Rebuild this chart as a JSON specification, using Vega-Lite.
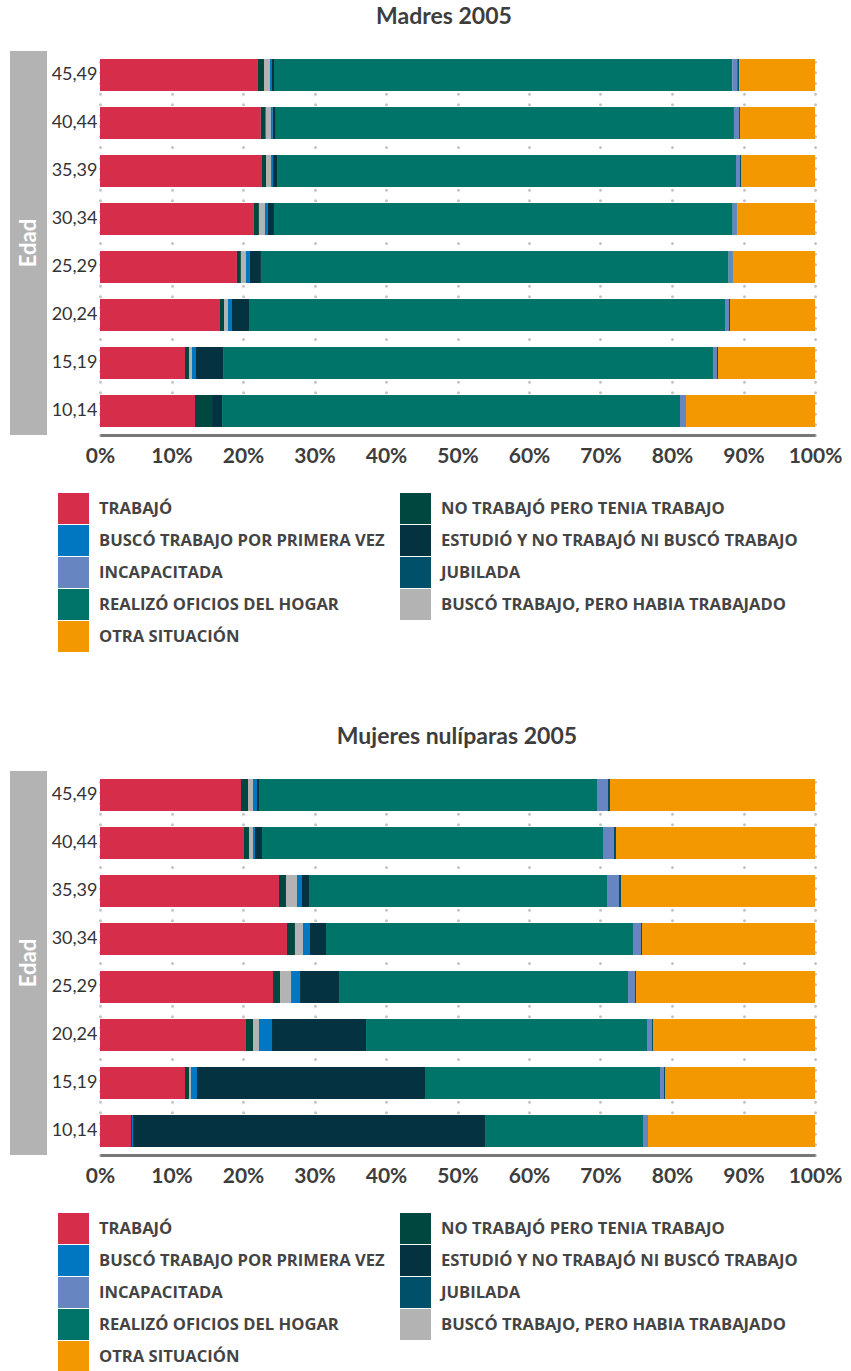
{
  "$schema": "https://vega.github.io/schema/vega-lite/v6.json",
  "padding": {"left": 10, "top": 6, "right": 0, "bottom": 0},
  "background": "white",
  "config": {
    "font": "Lato",
    "view": {"stroke": null},
    "title": {"font": "Lato", "fontSize": 23, "fontWeight": "bold", "color": "#3d3d3d", "anchor": "middle"}
  },
  "datasets": {
    "cats": [
      {"k": "trab", "cat": "TRABAJÓ", "orden": 1},
      {"k": "nott", "cat": "NO TRABAJÓ PERO TENIA TRABAJO", "orden": 2},
      {"k": "bhab", "cat": "BUSCÓ TRABAJO, PERO HABIA TRABAJADO", "orden": 3},
      {"k": "bpri", "cat": "BUSCÓ TRABAJO POR PRIMERA VEZ", "orden": 4},
      {"k": "estu", "cat": "ESTUDIÓ Y NO TRABAJÓ NI BUSCÓ TRABAJO", "orden": 5},
      {"k": "hogar", "cat": "REALIZÓ OFICIOS DEL HOGAR", "orden": 6},
      {"k": "inca", "cat": "INCAPACITADA", "orden": 7},
      {"k": "jubi", "cat": "JUBILADA", "orden": 8},
      {"k": "otra", "cat": "OTRA SITUACIÓN", "orden": 9}
    ],
    "madres": [
      {"edad": "45,49", "trab": 22.1, "nott": 0.84, "bhab": 0.84, "bpri": 0.28, "estu": 0.28, "hogar": 64.1, "inca": 0.7, "jubi": 0.28, "otra": 10.6},
      {"edad": "40,44", "trab": 22.5, "nott": 0.7, "bhab": 0.7, "bpri": 0.28, "estu": 0.42, "hogar": 64.1, "inca": 0.7, "jubi": 0.14, "otra": 10.5},
      {"edad": "35,39", "trab": 22.66, "nott": 0.56, "bhab": 0.7, "bpri": 0.28, "estu": 0.56, "hogar": 64.19, "inca": 0.56, "jubi": 0.14, "otra": 10.35},
      {"edad": "30,34", "trab": 21.54, "nott": 0.7, "bhab": 0.84, "bpri": 0.42, "estu": 0.84, "hogar": 64.19, "inca": 0.56, "jubi": 0.05, "otra": 10.9},
      {"edad": "25,29", "trab": 19.16, "nott": 0.56, "bhab": 0.7, "bpri": 0.56, "estu": 1.54, "hogar": 65.45, "inca": 0.56, "jubi": 0.05, "otra": 11.47},
      {"edad": "20,24", "trab": 16.78, "nott": 0.56, "bhab": 0.56, "bpri": 0.56, "estu": 2.38, "hogar": 66.57, "inca": 0.56, "jubi": 0.14, "otra": 11.89},
      {"edad": "15,19", "trab": 11.89, "nott": 0.56, "bhab": 0.42, "bpri": 0.56, "estu": 3.78, "hogar": 68.53, "inca": 0.56, "jubi": 0.14, "otra": 13.57},
      {"edad": "10,14", "trab": 13.29, "nott": 2.38, "bhab": 0, "bpri": 0, "estu": 1.4, "hogar": 64.06, "inca": 0.84, "jubi": 0, "otra": 18.04}
    ],
    "nuliparas": [
      {"edad": "45,49", "trab": 19.72, "nott": 0.98, "bhab": 0.7, "bpri": 0.56, "estu": 0.28, "hogar": 47.27, "inca": 1.54, "jubi": 0.28, "otra": 28.67},
      {"edad": "40,44", "trab": 20.14, "nott": 0.7, "bhab": 0.56, "bpri": 0.28, "estu": 0.98, "hogar": 47.69, "inca": 1.54, "jubi": 0.28, "otra": 27.83},
      {"edad": "35,39", "trab": 25.03, "nott": 0.98, "bhab": 1.54, "bpri": 0.7, "estu": 0.98, "hogar": 41.68, "inca": 1.68, "jubi": 0.28, "otra": 27.13},
      {"edad": "30,34", "trab": 26.15, "nott": 1.12, "bhab": 1.12, "bpri": 0.98, "estu": 2.24, "hogar": 42.94, "inca": 1.12, "jubi": 0.14, "otra": 24.2},
      {"edad": "25,29", "trab": 24.2, "nott": 0.98, "bhab": 1.54, "bpri": 1.26, "estu": 5.45, "hogar": 40.42, "inca": 0.98, "jubi": 0.14, "otra": 25.03},
      {"edad": "20,24", "trab": 20.42, "nott": 0.98, "bhab": 0.84, "bpri": 1.82, "estu": 13.15, "hogar": 39.3, "inca": 0.7, "jubi": 0.14, "otra": 22.66},
      {"edad": "15,19", "trab": 11.89, "nott": 0.56, "bhab": 0.28, "bpri": 0.84, "estu": 31.89, "hogar": 32.87, "inca": 0.56, "jubi": 0.14, "otra": 20.98},
      {"edad": "10,14", "trab": 4.34, "nott": 0.14, "bhab": 0, "bpri": 0.14, "estu": 49.23, "hogar": 22.1, "inca": 0.7, "jubi": 0, "otra": 23.36}
    ]
  },
  "spacing": 74,
  "resolve": {"scale": {"color": "independent"}, "legend": {"color": "independent"}},
  "vconcat": [
    {
      "title": {"text": "Madres 2005", "offset": 22, "dx": 18},
      "spacing": 3,
      "resolve": {"scale": {"color": "independent"}, "legend": {"color": "independent"}},
      "hconcat": [
        {
          "width": 37, "height": 384,
          "data": {"values": [{"t": "Edad"}]},
          "view": {"fill": "#b3b3b3", "stroke": null},
          "mark": {"type": "text", "angle": 270, "color": "white", "fontSize": 22, "fontWeight": "bold", "font": "Lato"},
          "encoding": {"text": {"field": "t"}}
        },
        {
          "width": 715, "height": 384,
          "data": {"name": "madres"},
          "transform": [
            {"fold": ["trab", "nott", "bhab", "bpri", "estu", "hogar", "inca", "jubi", "otra"], "as": ["k", "pct"]},
            {"lookup": "k", "from": {"data": {"name": "cats"}, "key": "k", "fields": ["cat", "orden"]}}
          ],
          "mark": {"type": "bar"},
          "encoding": {
            "y": {"field": "edad", "type": "nominal", "sort": "descending",
              "scale": {"paddingInner": 0.333, "paddingOuter": 0.167},
              "axis": {"title": null, "domain": false, "ticks": false, "labelFontSize": 18, "labelColor": "#333", "labelPadding": 3, "minExtent": 50, "maxExtent": 50, "labelFont": "Lato"}},
            "x": {"field": "pct", "type": "quantitative", "stack": "normalize",
              "scale": {"domain": [0, 1], "nice": false},
              "axis": {"title": null, "values": [0, 0.1, 0.2, 0.3, 0.4, 0.5, 0.6, 0.7, 0.8, 0.9, 1], "format": ".0%", "grid": true, "gridDash": [0.01, 10.657], "gridCap": "round", "gridWidth": 3, "gridColor": "#c4c4c4", "domainColor": "#777777", "domainWidth": 3, "ticks": false, "labelFontSize": 21, "labelFontWeight": "bold", "labelColor": "#3d3d3d", "labelPadding": 10, "labelDx": 6, "labelFlush": false, "labelFont": "Lato"}},
            "color": {"field": "cat", "type": "nominal",
              "scale": {"domain": ["TRABAJÓ", "BUSCÓ TRABAJO POR PRIMERA VEZ", "INCAPACITADA", "REALIZÓ OFICIOS DEL HOGAR", "OTRA SITUACIÓN", "NO TRABAJÓ PERO TENIA TRABAJO", "ESTUDIÓ Y NO TRABAJÓ NI BUSCÓ TRABAJO", "JUBILADA", "BUSCÓ TRABAJO, PERO HABIA TRABAJADO"],
                "range": ["#d62e4a", "#0077c0", "#6785c1", "#007469", "#f39800", "#00473f", "#043241", "#005069", "#b3b3b3"]},
              "legend": {"title": null, "orient": "none", "legendX": -42, "legendY": 442, "columns": 2, "symbolType": "square", "symbolSize": 961, "symbolStrokeWidth": 0, "symbolOpacity": 1, "labelFontSize": 16.6, "labelFontWeight": "bold", "labelColor": "#444", "labelOffset": 10, "rowPadding": 1, "columnPadding": 15, "labelLimit": 420, "padding": 0, "labelFont": "Open Sans"}},
            "order": {"field": "orden", "type": "quantitative"}
          }
        }
      ]
    },
    {
      "title": {"text": "Mujeres nulíparas 2005", "offset": 22, "dx": 31},
      "spacing": 3,
      "resolve": {"scale": {"color": "independent"}, "legend": {"color": "independent"}},
      "hconcat": [
        {
          "width": 37, "height": 384,
          "data": {"values": [{"t": "Edad"}]},
          "view": {"fill": "#b3b3b3", "stroke": null},
          "mark": {"type": "text", "angle": 270, "color": "white", "fontSize": 22, "fontWeight": "bold", "font": "Lato"},
          "encoding": {"text": {"field": "t"}}
        },
        {
          "width": 715, "height": 384,
          "data": {"name": "nuliparas"},
          "transform": [
            {"fold": ["trab", "nott", "bhab", "bpri", "estu", "hogar", "inca", "jubi", "otra"], "as": ["k", "pct"]},
            {"lookup": "k", "from": {"data": {"name": "cats"}, "key": "k", "fields": ["cat", "orden"]}}
          ],
          "mark": {"type": "bar"},
          "encoding": {
            "y": {"field": "edad", "type": "nominal", "sort": "descending",
              "scale": {"paddingInner": 0.333, "paddingOuter": 0.167},
              "axis": {"title": null, "domain": false, "ticks": false, "labelFontSize": 18, "labelColor": "#333", "labelPadding": 3, "minExtent": 50, "maxExtent": 50, "labelFont": "Lato"}},
            "x": {"field": "pct", "type": "quantitative", "stack": "normalize",
              "scale": {"domain": [0, 1], "nice": false},
              "axis": {"title": null, "values": [0, 0.1, 0.2, 0.3, 0.4, 0.5, 0.6, 0.7, 0.8, 0.9, 1], "format": ".0%", "grid": true, "gridDash": [0.01, 10.657], "gridCap": "round", "gridWidth": 3, "gridColor": "#c4c4c4", "domainColor": "#777777", "domainWidth": 3, "ticks": false, "labelFontSize": 21, "labelFontWeight": "bold", "labelColor": "#3d3d3d", "labelPadding": 10, "labelDx": 6, "labelFlush": false, "labelFont": "Lato"}},
            "color": {"field": "cat", "type": "nominal",
              "scale": {"domain": ["TRABAJÓ", "BUSCÓ TRABAJO POR PRIMERA VEZ", "INCAPACITADA", "REALIZÓ OFICIOS DEL HOGAR", "OTRA SITUACIÓN", "NO TRABAJÓ PERO TENIA TRABAJO", "ESTUDIÓ Y NO TRABAJÓ NI BUSCÓ TRABAJO", "JUBILADA", "BUSCÓ TRABAJO, PERO HABIA TRABAJADO"],
                "range": ["#d62e4a", "#0077c0", "#6785c1", "#007469", "#f39800", "#00473f", "#043241", "#005069", "#b3b3b3"]},
              "legend": {"title": null, "orient": "none", "legendX": -42, "legendY": 442, "columns": 2, "symbolType": "square", "symbolSize": 961, "symbolStrokeWidth": 0, "symbolOpacity": 1, "labelFontSize": 16.6, "labelFontWeight": "bold", "labelColor": "#444", "labelOffset": 10, "rowPadding": 1, "columnPadding": 15, "labelLimit": 420, "padding": 0, "labelFont": "Open Sans"}},
            "order": {"field": "orden", "type": "quantitative"}
          }
        }
      ]
    }
  ]
}
